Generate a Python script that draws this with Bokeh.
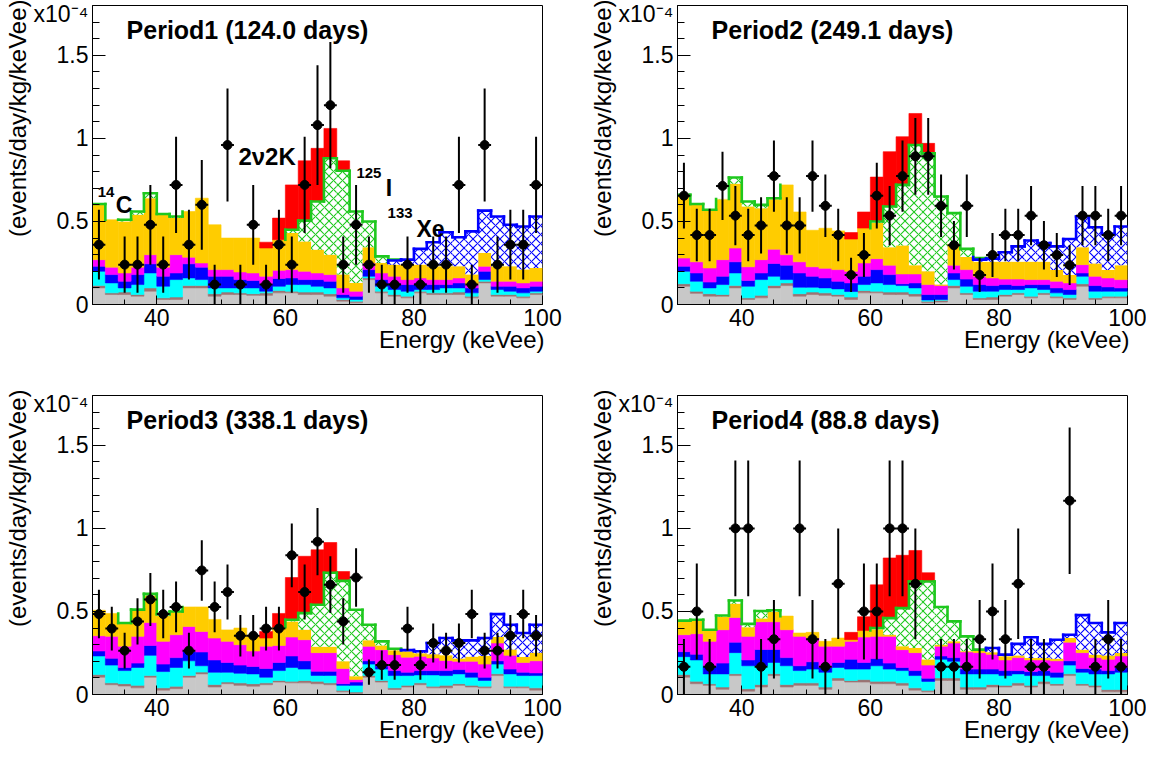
import math
from bokeh.plotting import figure
from bokeh.models import Label, Range1d, SingleIntervalTicker, FixedTicker, CustomJSTickFormatter, Title
from bokeh.layouts import column, row
from bokeh.embed import file_html
from bokeh.resources import INLINE

NAN = float("nan")
FONT = "Liberation Sans"

# ---------------- data ----------------
energy = [31, 33, 35, 37, 39, 41, 43, 45, 47, 49, 51, 53, 55, 57, 59, 61, 63, 65,
          67, 69, 71, 73, 75, 77, 79, 81, 83, 85, 87, 89, 91, 93, 95, 97, 99]
half_bin = 1.0

titles = ["Period1 (124.0 days)", "Period2 (249.1 days)",
          "Period3 (338.1 days)", "Period4 (88.8 days)"]
y_scale_label = "x10\u207b\u2074"
y_title = "(events/day/kg/keVee)"
x_title = "Energy (keVee)"

# measured rates (x1e-4 events/day/kg/keVee) and their errors
p1_rate = [0.36, NAN, 0.24, 0.24, 0.48, 0.24, 0.72, 0.36, 0.60, 0.12, 0.96, 0.12, 0.48, 0.12, 0.36, 0.24, 0.72, 1.08,
           1.20, 0.24, 0.48, 0.24, 0.12, 0.12, 0.24, 0.12, 0.24, 0.24, 0.72, 0.12, 0.96, 0.24, 0.36, 0.36, 0.72]
p1_err = [0.21, NAN, 0.17, 0.17, 0.24, 0.17, 0.29, 0.21, 0.27, 0.12, 0.34, 0.12, 0.24, 0.12, 0.21, 0.17, 0.29, 0.36,
          0.38, 0.17, 0.24, 0.17, 0.12, 0.12, 0.17, 0.12, 0.17, 0.17, 0.29, 0.12, 0.34, 0.17, 0.21, 0.21, 0.29]
p2_rate = [0.655, 0.418, 0.418, 0.714, 0.535, 0.418, 0.476, 0.773, 0.476, 0.476, 0.773, 0.594, 0.418, 0.178, 0.298,
           0.655, 0.535, 0.773, 0.892, 0.892, 0.594, 0.357, 0.594, 0.178, 0.298, 0.418, 0.418, 0.535, 0.357, 0.298,
           0.237, 0.535, 0.535, 0.418, 0.535]
p2_err = [0.198, 0.158, 0.158, 0.206, 0.179, 0.158, 0.169, 0.215, 0.169, 0.169, 0.215, 0.188, 0.158, 0.103, 0.133,
          0.198, 0.179, 0.215, 0.231, 0.231, 0.188, 0.146, 0.188, 0.103, 0.133, 0.158, 0.158, 0.179, 0.146, 0.133,
          0.119, 0.179, 0.179, 0.158, 0.179]
p3_rate = [0.484, 0.397, 0.264, 0.44, 0.572, 0.484, 0.527, 0.264, 0.747, 0.527, 0.617, 0.354, 0.354, 0.397, 0.397,
           0.838, 0.617, 0.92, 0.661, 0.44, 0.704, 0.134, 0.177, 0.177, 0.397, 0.177, 0.31, 0.264, 0.31, 0.484,
           0.264, 0.264, 0.354, 0.484, 0.354]
p3_err = [0.146, 0.132, 0.108, 0.139, 0.159, 0.146, 0.153, 0.108, 0.182, 0.153, 0.165, 0.125, 0.125, 0.132, 0.132,
          0.192, 0.165, 0.202, 0.171, 0.139, 0.176, 0.076, 0.088, 0.088, 0.132, 0.088, 0.117, 0.108, 0.117, 0.146,
          0.108, 0.108, 0.125, 0.146, 0.125]
p4_rate = [0.167, 0.50, 0.167, NAN, 1.0, 1.0, 0.167, 0.333, NAN, 1.0, 0.333, 0.167, 0.667, NAN, 0.50, 0.50, 1.0, 1.0,
           0.667, NAN, 0.167, 0.167, 0.167, 0.333, 0.50, 0.333, 0.667, 0.167, 0.167, NAN, 1.167, NAN, 0.167, 0.333,
           0.167]
p4_err = [0.167, 0.289, 0.167, NAN, 0.408, 0.408, 0.167, 0.236, NAN, 0.408, 0.236, 0.167, 0.333, NAN, 0.289, 0.289,
          0.408, 0.408, 0.333, NAN, 0.167, 0.167, 0.167, 0.236, 0.289, 0.236, 0.333, 0.167, 0.167, NAN, 0.441, NAN,
          0.167, 0.236, 0.167]

# stacked background / signal levels (cumulative tops, bottom-up)
gray1 = [0.10, 0.06, 0.06, 0.05, 0.08, 0.03, 0.03, 0.10, 0.10, 0.05, 0.06, 0.06, 0.055, 0.055, 0.07, 0.07, 0.06, 0.06,
         0.05, 0.02, 0.01, 0.15, 0.07, 0.05, 0.04, 0.07, 0.06, 0.06, 0.06, 0.04, 0.13, 0.05, 0.05, 0.04, 0.06]
brown1 = [0.115, 0.07, 0.075, 0.06, 0.10, 0.04, 0.045, 0.115, 0.115, 0.065, 0.075, 0.07, 0.065, 0.07, 0.085, 0.08,
          0.075, 0.075, 0.065, 0.03, 0.02, 0.16, 0.08, 0.06, 0.05, 0.08, 0.07, 0.07, 0.075, 0.05, 0.14, 0.06, 0.06,
          0.05, 0.07]
cyan1 = [0.20, 0.13, 0.10, 0.12, 0.19, 0.11, 0.15, 0.16, 0.15, 0.10, 0.10, 0.10, 0.10, 0.08, 0.11, 0.12, 0.12, 0.11,
         0.10, 0.04, 0.03, 0.17, 0.11, 0.09, 0.08, 0.09, 0.09, 0.10, 0.10, 0.07, 0.15, 0.09, 0.08, 0.07, 0.08]
blue1 = [0.23, 0.18, 0.14, 0.18, 0.245, 0.17, 0.19, 0.245, 0.225, 0.17, 0.17, 0.15, 0.145, 0.125, 0.157, 0.16, 0.15,
         0.15, 0.14, 0.06, 0.05, 0.21, 0.15, 0.13, 0.12, 0.13, 0.12, 0.12, 0.13, 0.10, 0.20, 0.11, 0.11, 0.10, 0.11]
magenta1 = [0.27, 0.225, 0.19, 0.225, 0.30, 0.225, 0.30, 0.285, 0.25, 0.21, 0.21, 0.196, 0.19, 0.17, 0.206, 0.21,
            0.20, 0.19, 0.18, 0.10, 0.08, 0.25, 0.19, 0.17, 0.15, 0.16, 0.15, 0.15, 0.16, 0.12, 0.23, 0.14, 0.14,
            0.13, 0.14]
gold1 = [0.60, 0.51, 0.50, 0.54, 0.64, 0.54, 0.52, 0.56, 0.64, 0.48, 0.40, 0.40, 0.40, 0.34, 0.39, 0.43, 0.38, 0.33,
         0.30, 0.18, 0.13, 0.345, 0.25, 0.24, 0.24, 0.24, 0.23, 0.23, 0.23, 0.18, 0.31, 0.23, 0.23, 0.21, 0.22]
xe1 = [0.60, 0.51, 0.50, 0.54, 0.64, 0.54, 0.52, 0.56, 0.64, 0.48, 0.40, 0.40, 0.40, 0.34, 0.39, 0.43, 0.38, 0.33,
       0.30, 0.18, 0.13, 0.345, 0.25, 0.265, 0.27, 0.335, 0.375, 0.435, 0.405, 0.44, 0.565, 0.53, 0.48, 0.47, 0.53]
i1 = [0.605, 0.51, 0.51, 0.56, 0.67, 0.545, 0.53, 0.56, 0.64, 0.48, 0.40, 0.40, 0.40, 0.34, 0.39, 0.45, 0.505, 0.62,
      0.88, 0.805, 0.56, 0.50, 0.29, 0.27, 0.27, 0.335, 0.375, 0.435, 0.405, 0.44, 0.565, 0.53, 0.48, 0.47, 0.53]
red1 = [0.605, 0.51, 0.51, 0.56, 0.67, 0.545, 0.53, 0.56, 0.64, 0.48, 0.40, 0.40, 0.40, 0.375, 0.52, 0.72, 0.865,
        0.94, 1.06, 0.865, 0.56, 0.50, 0.29, 0.27, 0.27, 0.335, 0.375, 0.435, 0.405, 0.44, 0.565, 0.53, 0.48, 0.47,
        0.53]

gray2 = [0.11, 0.067, 0.05, 0.05, 0.10, 0.03, 0.04, 0.10, 0.114, 0.05, 0.06, 0.055, 0.05, 0.03, 0.07, 0.07, 0.06,
         0.06, 0.05, 0.01, 0.015, 0.10, 0.06, 0.03, 0.03, 0.05, 0.06, 0.04, 0.06, 0.04, 0.03, 0.11, 0.03, 0.04, 0.04]
brown2 = [0.125, 0.08, 0.065, 0.06, 0.115, 0.04, 0.055, 0.115, 0.13, 0.065, 0.075, 0.07, 0.06, 0.045, 0.085, 0.08,
          0.075, 0.075, 0.065, 0.02, 0.025, 0.115, 0.07, 0.04, 0.045, 0.06, 0.07, 0.05, 0.07, 0.05, 0.04, 0.125,
          0.04, 0.05, 0.05]
cyan2 = [0.20, 0.14, 0.10, 0.12, 0.19, 0.11, 0.15, 0.17, 0.15, 0.104, 0.104, 0.10, 0.094, 0.078, 0.12, 0.13, 0.12,
         0.114, 0.10, 0.027, 0.03, 0.15, 0.11, 0.08, 0.08, 0.09, 0.09, 0.10, 0.09, 0.07, 0.06, 0.17, 0.08, 0.08, 0.08]
blue2 = [0.23, 0.19, 0.135, 0.17, 0.257, 0.145, 0.19, 0.247, 0.237, 0.19, 0.17, 0.16, 0.14, 0.13, 0.17, 0.21, 0.18,
         0.125, 0.13, 0.06, 0.06, 0.19, 0.153, 0.12, 0.114, 0.12, 0.114, 0.12, 0.12, 0.10, 0.09, 0.19, 0.114, 0.106,
         0.10]
magenta2 = [0.28, 0.257, 0.22, 0.27, 0.34, 0.227, 0.27, 0.333, 0.30, 0.257, 0.227, 0.218, 0.21, 0.20, 0.25, 0.276,
            0.237, 0.184, 0.184, 0.12, 0.114, 0.237, 0.21, 0.17, 0.16, 0.153, 0.153, 0.15, 0.15, 0.14, 0.13, 0.24,
            0.17, 0.16, 0.15]
gold2 = [0.655, 0.60, 0.565, 0.633, 0.727, 0.59, 0.58, 0.633, 0.72, 0.557, 0.447, 0.459, 0.443, 0.394, 0.46, 0.49,
         0.345, 0.355, 0.237, 0.20, 0.12, 0.365, 0.286, 0.257, 0.257, 0.257, 0.257, 0.257, 0.257, 0.208, 0.178,
         0.345, 0.247, 0.208, 0.237]
xe2 = [0.655, 0.60, 0.565, 0.633, 0.727, 0.59, 0.58, 0.633, 0.72, 0.557, 0.447, 0.459, 0.443, 0.394, 0.46, 0.49,
       0.345, 0.355, 0.237, 0.20, 0.12, 0.365, 0.286, 0.27, 0.276, 0.315, 0.35, 0.385, 0.37, 0.35, 0.394, 0.53, 0.465,
       0.425, 0.47]
i2 = [0.66, 0.605, 0.57, 0.635, 0.765, 0.62, 0.60, 0.64, 0.72, 0.557, 0.447, 0.459, 0.443, 0.394, 0.46, 0.50, 0.59,
      0.72, 0.96, 0.91, 0.65, 0.55, 0.335, 0.28, 0.276, 0.315, 0.35, 0.385, 0.37, 0.35, 0.394, 0.53, 0.465, 0.425,
      0.47]
red2 = [0.66, 0.605, 0.57, 0.635, 0.765, 0.62, 0.60, 0.64, 0.72, 0.557, 0.447, 0.459, 0.443, 0.433, 0.557, 0.767,
        0.92, 1.01, 1.15, 0.97, 0.65, 0.55, 0.335, 0.28, 0.276, 0.315, 0.35, 0.385, 0.37, 0.35, 0.394, 0.53, 0.465,
        0.425, 0.47]

gray3 = [0.104, 0.059, 0.051, 0.04, 0.104, 0.026, 0.035, 0.104, 0.124, 0.045, 0.065, 0.055, 0.05, 0.059, 0.075, 0.07,
         0.07, 0.065, 0.059, 0.016, 0.006, 0.104, 0.075, 0.03, 0.045, 0.059, 0.04, 0.04, 0.055, 0.045, 0.04, 0.114,
         0.04, 0.04, 0.026]
brown3 = [0.12, 0.07, 0.065, 0.055, 0.115, 0.04, 0.05, 0.115, 0.135, 0.06, 0.075, 0.07, 0.065, 0.07, 0.085, 0.08,
          0.085, 0.08, 0.07, 0.025, 0.015, 0.115, 0.085, 0.04, 0.055, 0.07, 0.05, 0.055, 0.065, 0.055, 0.05, 0.125,
          0.05, 0.05, 0.04]
cyan3 = [0.232, 0.177, 0.144, 0.163, 0.236, 0.138, 0.163, 0.203, 0.173, 0.134, 0.134, 0.128, 0.124, 0.104, 0.144,
         0.163, 0.153, 0.115, 0.115, 0.055, 0.055, 0.183, 0.153, 0.114, 0.114, 0.118, 0.118, 0.114, 0.124, 0.104,
         0.085, 0.183, 0.124, 0.114, 0.114]
blue3 = [0.262, 0.218, 0.163, 0.189, 0.295, 0.183, 0.222, 0.262, 0.256, 0.208, 0.193, 0.177, 0.169, 0.157, 0.193,
         0.232, 0.203, 0.14, 0.14, 0.065, 0.075, 0.203, 0.173, 0.144, 0.134, 0.144, 0.144, 0.144, 0.15, 0.134, 0.104,
         0.203, 0.153, 0.134, 0.13]
magenta3 = [0.354, 0.35, 0.291, 0.35, 0.433, 0.32, 0.36, 0.41, 0.38, 0.34, 0.32, 0.30, 0.262, 0.291, 0.295, 0.346,
            0.33, 0.252, 0.252, 0.157, 0.09, 0.29, 0.27, 0.24, 0.225, 0.23, 0.22, 0.205, 0.2, 0.2, 0.183, 0.31, 0.236,
            0.193, 0.203]
gold3 = [0.507, 0.488, 0.425, 0.503, 0.596, 0.472, 0.497, 0.527, 0.527, 0.452, 0.389, 0.40, 0.354, 0.34, 0.405,
         0.44, 0.39, 0.287, 0.287, 0.20, 0.11, 0.326, 0.295, 0.267, 0.26, 0.248, 0.242, 0.236, 0.216, 0.228, 0.232,
         0.346, 0.271, 0.226, 0.252]
xe3 = [0.507, 0.488, 0.425, 0.503, 0.596, 0.472, 0.497, 0.527, 0.527, 0.452, 0.389, 0.40, 0.354, 0.34, 0.405, 0.44,
       0.39, 0.287, 0.287, 0.20, 0.11, 0.326, 0.295, 0.267, 0.267, 0.26, 0.31, 0.34, 0.326, 0.326, 0.34, 0.484, 0.42,
       0.37, 0.42]
i3 = [0.507, 0.488, 0.43, 0.511, 0.606, 0.484, 0.50, 0.527, 0.527, 0.452, 0.389, 0.40, 0.354, 0.34, 0.405, 0.45,
      0.49, 0.54, 0.733, 0.684, 0.51, 0.42, 0.32, 0.275, 0.267, 0.26, 0.31, 0.34, 0.326, 0.326, 0.34, 0.484, 0.42,
      0.37, 0.42]
red3 = [0.507, 0.488, 0.43, 0.511, 0.606, 0.484, 0.50, 0.527, 0.527, 0.452, 0.389, 0.40, 0.354, 0.38, 0.488, 0.704,
        0.832, 0.871, 0.915, 0.74, 0.51, 0.42, 0.32, 0.275, 0.267, 0.26, 0.31, 0.34, 0.326, 0.326, 0.34, 0.484, 0.42,
        0.37, 0.42]

gray4 = [0.104, 0.065, 0.055, 0.031, 0.114, 0.02, 0.045, 0.114, 0.045, 0.055, 0.055, 0.031, 0.085, 0.075, 0.075,
         0.065, 0.065, 0.055, 0.026, 0.016, 0.085, 0.085, 0.031, 0.031, 0.045, 0.045, 0.055, 0.045, 0.065, 0.055,
         0.114, 0.055, 0.045, 0.016, 0.016]
brown4 = [0.12, 0.08, 0.065, 0.045, 0.125, 0.035, 0.06, 0.125, 0.06, 0.07, 0.07, 0.045, 0.1, 0.085, 0.09, 0.08, 0.08,
          0.07, 0.04, 0.025, 0.1, 0.1, 0.045, 0.045, 0.06, 0.055, 0.07, 0.055, 0.08, 0.065, 0.125, 0.065, 0.055,
          0.03, 0.03]
cyan4 = [0.228, 0.208, 0.124, 0.124, 0.252, 0.173, 0.173, 0.193, 0.173, 0.144, 0.153, 0.134, 0.163, 0.153, 0.153,
         0.173, 0.153, 0.144, 0.114, 0.079, 0.212, 0.20, 0.124, 0.124, 0.124, 0.114, 0.124, 0.114, 0.114, 0.104,
         0.177, 0.134, 0.124, 0.124, 0.134]
blue4 = [0.258, 0.242, 0.169, 0.189, 0.315, 0.208, 0.271, 0.271, 0.222, 0.173, 0.197, 0.163, 0.193, 0.212, 0.193,
         0.216, 0.189, 0.163, 0.144, 0.098, 0.232, 0.222, 0.153, 0.153, 0.153, 0.144, 0.144, 0.138, 0.144, 0.134,
         0.203, 0.157, 0.153, 0.144, 0.163]
magenta4 = [0.36, 0.366, 0.32, 0.39, 0.464, 0.35, 0.438, 0.438, 0.39, 0.35, 0.34, 0.291, 0.291, 0.32, 0.346, 0.35,
            0.35, 0.27, 0.252, 0.177, 0.291, 0.31, 0.256, 0.252, 0.242, 0.208, 0.222, 0.208, 0.208, 0.203, 0.315,
            0.252, 0.222, 0.212, 0.232]
gold4 = [0.44, 0.444, 0.385, 0.468, 0.547, 0.405, 0.458, 0.497, 0.472, 0.37, 0.374, 0.32, 0.34, 0.33, 0.385, 0.393,
         0.36, 0.29, 0.28, 0.21, 0.30, 0.32, 0.26, 0.265, 0.255, 0.23, 0.235, 0.22, 0.22, 0.215, 0.34, 0.27, 0.24,
         0.235, 0.25]
xe4 = [0.44, 0.444, 0.385, 0.468, 0.547, 0.405, 0.458, 0.497, 0.472, 0.37, 0.374, 0.32, 0.34, 0.33, 0.385, 0.393,
       0.36, 0.29, 0.28, 0.21, 0.30, 0.32, 0.26, 0.265, 0.28, 0.24, 0.305, 0.345, 0.305, 0.33, 0.36, 0.478, 0.43,
       0.374, 0.43]
i4 = [0.445, 0.45, 0.39, 0.476, 0.566, 0.425, 0.503, 0.507, 0.472, 0.37, 0.374, 0.32, 0.34, 0.33, 0.385, 0.40, 0.46,
      0.52, 0.68, 0.68, 0.527, 0.44, 0.35, 0.27, 0.28, 0.24, 0.305, 0.345, 0.305, 0.33, 0.36, 0.478, 0.43, 0.374,
      0.43]
red4 = [0.445, 0.45, 0.39, 0.476, 0.566, 0.425, 0.503, 0.507, 0.472, 0.37, 0.374, 0.32, 0.34, 0.374, 0.468, 0.66,
        0.822, 0.838, 0.867, 0.733, 0.527, 0.44, 0.35, 0.27, 0.28, 0.24, 0.305, 0.345, 0.305, 0.33, 0.36, 0.478,
        0.43, 0.374, 0.43]

# ---------------- styling ----------------
C_GRAY = "#c8c8c8"
C_BROWN = "#9c7474"
C_CYAN = "#00ffff"
C_BLUE = "#0000ff"
C_MAGENTA = "#ff00ff"
C_GOLD = "#ffcc00"
C_RED = "#ff0000"
C_GREEN = "#1ec81e"
C_XE = "#0000ff"


def edges_of(sel):
    return [energy[k] - half_bin for k in sel], [energy[k] + half_bin for k in sel]


def solid_layer(p, bottom, top, color):
    sel = [k for k in range(len(energy)) if top[k] - bottom[k] > 1e-6]
    l, r = edges_of(sel)
    p.quad(left=l, right=r, bottom=[bottom[k] for k in sel], top=[top[k] for k in sel],
           fill_color=color, line_color=color, line_width=0.6)


def hatch_layer(p, bottom, top, color):
    sel = [k for k in range(len(energy)) if top[k] - bottom[k] > 1e-6]
    l, r = edges_of(sel)
    p.quad(left=l, right=r, bottom=[bottom[k] for k in sel], top=[top[k] for k in sel],
           fill_color="white", line_color=None, hatch_pattern="x", hatch_color=color,
           hatch_scale=9, hatch_weight=1.1)


def outline(p, lower, upper, color):
    n = len(energy)
    on = [upper[k] - lower[k] > 0.003 for k in range(n)]
    x0, y0, x1, y1 = [], [], [], []
    for k in range(n):
        if on[k]:
            x0.append(energy[k] - half_bin); x1.append(energy[k] + half_bin)
            y0.append(upper[k]); y1.append(upper[k])
        if k < n - 1 and (on[k] or on[k + 1]):
            x0.append(energy[k] + half_bin); x1.append(energy[k] + half_bin)
            y0.append(upper[k]); y1.append(upper[k + 1])
    p.segment(x0=x0, y0=y0, x1=x1, y1=y1, line_color=color, line_width=2.6, line_cap="square")


def add_label(p, x, y, text, size, bold=True, align="left"):
    p.add_layout(Label(x=x, y=y, text=text, text_font=FONT, text_font_size=size,
                       text_font_style="bold" if bold else "normal", text_color="black",
                       text_align=align, text_baseline="alphabetic"))


LEFT_B = 92
FRAME_W = 450
FRAME_H = 299


def make_panel(title, rate, err, layers, xe, i125, red, right_border, bottom_border, annotate):
    p = figure(frame_width=FRAME_W, frame_height=FRAME_H,
               x_range=Range1d(30, 100), y_range=Range1d(0, 1.8),
               output_backend="svg", toolbar_location=None,
               min_border_left=LEFT_B, min_border_right=right_border,
               min_border_top=5, min_border_bottom=bottom_border)
    p.background_fill_color = "white"
    p.border_fill_color = "white"
    p.outline_line_color = "black"
    p.outline_line_width = 1
    p.xgrid.visible = False
    p.ygrid.visible = False

    # stacked backgrounds
    bottom = [0.0] * len(energy)
    for top, color in layers:
        solid_layer(p, bottom, top, color)
        bottom = top
    gold = bottom
    hatch_layer(p, gold, xe, C_XE)
    hatch_layer(p, xe, i125, C_GREEN)
    solid_layer(p, i125, red, C_RED)
    outline(p, xe, i125, C_GREEN)
    outline(p, gold, xe, C_XE)

    # data points
    sel = [k for k in range(len(energy)) if not math.isnan(rate[k])]
    ex = [energy[k] for k in sel]
    ey = [rate[k] for k in sel]
    ee = [err[k] for k in sel]
    p.segment(x0=ex, y0=[y - e for y, e in zip(ey, ee)], x1=ex, y1=[y + e for y, e in zip(ey, ee)],
              line_color="black", line_width=2)
    p.segment(x0=[x - half_bin for x in ex], y0=ey, x1=[x + half_bin for x in ex], y1=ey,
              line_color="black", line_width=2)
    p.scatter(ex, ey, size=9, marker="circle", fill_color="black", line_color="black")

    # axes
    xa, ya = p.xaxis[0], p.yaxis[0]
    xa.ticker = SingleIntervalTicker(interval=20, num_minor_ticks=4)
    ya.ticker = FixedTicker(ticks=[0, 0.5, 1.0, 1.5, 1.8],
                            minor_ticks=[k / 10 for k in range(1, 18) if k % 5 != 0])
    ya.formatter = CustomJSTickFormatter(
        code="if (tick > 1.75) { return '%s'; } return (Math.round(tick*10)/10).toString();" % y_scale_label)
    for ax in (xa, ya):
        ax.axis_line_color = "black"
        ax.major_tick_line_color = "black"
        ax.minor_tick_line_color = "black"
        ax.major_tick_out = 0
        ax.minor_tick_out = 0
        ax.major_label_text_font = FONT
        ax.major_label_text_font_size = "23px"
        ax.major_label_text_color = "black"
    xa.major_tick_in = 9
    xa.minor_tick_in = 5
    xa.major_label_standoff = 4
    ya.major_tick_in = 13
    ya.minor_tick_in = 7
    ya.major_label_standoff = 4

    # axis titles (ROOT style: right / top aligned)
    p.add_layout(Title(text=x_title, align="right", offset=-2, standoff=-10, text_font=FONT,
                       text_font_size="24px", text_font_style="normal", text_color="black"), "below")
    p.add_layout(Title(text=y_title, align="right", offset=-6, standoff=0, text_font=FONT,
                       text_font_size="24px", text_font_style="normal", text_color="black"), "left")

    # panel title
    add_label(p, 35.3, 1.65, title, "25px", bold=True)

    if annotate:
        add_label(p, 30.8, 0.676, "14", "15px")
        add_label(p, 33.6, 0.60, "C", "23px")
        add_label(p, 52.7, 0.89, "2\u03bd2K", "24px")
        add_label(p, 71.05, 0.79, "125", "15px")
        add_label(p, 75.6, 0.70, "I", "23px")
        add_label(p, 75.9, 0.553, "133", "15px")
        add_label(p, 80.4, 0.453, "Xe", "23px")
    return p


layers1 = [(gray1, C_GRAY), (brown1, C_BROWN), (cyan1, C_CYAN), (blue1, C_BLUE), (magenta1, C_MAGENTA), (gold1, C_GOLD)]
layers2 = [(gray2, C_GRAY), (brown2, C_BROWN), (cyan2, C_CYAN), (blue2, C_BLUE), (magenta2, C_MAGENTA), (gold2, C_GOLD)]
layers3 = [(gray3, C_GRAY), (brown3, C_BROWN), (cyan3, C_CYAN), (blue3, C_BLUE), (magenta3, C_MAGENTA), (gold3, C_GOLD)]
layers4 = [(gray4, C_GRAY), (brown4, C_BROWN), (cyan4, C_CYAN), (blue4, C_BLUE), (magenta4, C_MAGENTA), (gold4, C_GOLD)]

f1 = make_panel(titles[0], p1_rate, p1_err, layers1, xe1, i1, red1, 43, 86, True)
f2 = make_panel(titles[1], p2_rate, p2_err, layers2, xe2, i2, red2, 19, 86, False)
f3 = make_panel(titles[2], p3_rate, p3_err, layers3, xe3, i3, red3, 43, 50, False)
f4 = make_panel(titles[3], p4_rate, p4_err, layers4, xe4, i4, red4, 19, 50, False)

layout = column(row(f1, f2), row(f3, f4))
open("out.html", "w").write(file_html(layout, INLINE))
